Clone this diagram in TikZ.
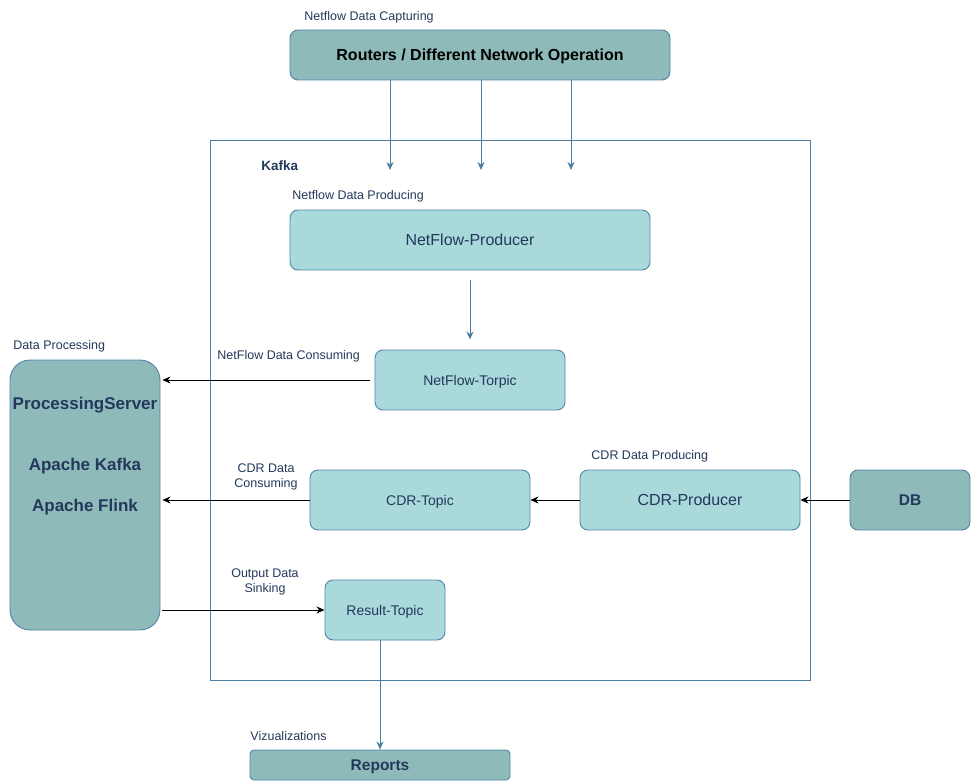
\documentclass[tikz,border=0pt]{standalone}
\usepackage{fontspec}
\setmainfont{Liberation Sans}
\usetikzlibrary{arrows.meta}
\definecolor{boxlight}{HTML}{A9D9DA}
\definecolor{boxdark}{HTML}{8FBABA}
\definecolor{boxline}{HTML}{4F84A8}
\definecolor{steel}{HTML}{4A7FA3}
\definecolor{navy}{HTML}{23395B}
\begin{document}
\begin{tikzpicture}[x = 1pt, y = -1pt, line width = 0.9pt,
                    topicbox/.style = {draw = boxline, fill = boxlight, rounded corners = 8pt,
                                       text = navy, font = \fontsize{14}{16}\selectfont,
                                       text height = 10pt, text depth = 0pt},
                    bigtopic/.style = {topicbox, font = \fontsize{16}{18}\selectfont, text height = 11.5pt},
                    darkbox/.style = {draw = boxline, fill = boxdark, rounded corners = 8pt,
                                      text = navy, font = \fontsize{15.5}{18}\selectfont\bfseries,
                                      text height = 11.1pt, text depth = 0pt},
                    srvtext/.style = {text = navy, font = \fontsize{17}{19}\selectfont\bfseries,
                                      text height = 12.2pt, text depth = 0pt},
                    lbl/.style = {text = navy, font = \fontsize{12.5}{15}\selectfont, inner sep = 0pt},
                    bluearrow/.style = {draw = steel, -{Stealth[length = 8pt, width = 7pt, inset = 2.5pt]}},
                    blackarrow/.style = {draw = black, -{Stealth[length = 8pt, width = 7pt, inset = 2.5pt]}}]
  \useasboundingbox (0, 0) rectangle (971, 781);

  % boxes
  \node [darkbox, text = black, font = \fontsize{16}{18}\selectfont\bfseries, text height = 11.5pt, minimum width = 380pt, minimum height = 50pt] (routers) at (480, 55) {Routers / Different Network Operation};
  \draw [draw = steel] (210, 140) rectangle (810, 680);
  \node [bigtopic, minimum width = 360pt, minimum height = 60pt] (nfprod) at (470, 240) {NetFlow-Producer};
  \node [topicbox, minimum width = 190pt, minimum height = 60pt] (nftopic) at (470, 380) {NetFlow-Torpic};
  \node [darkbox, rounded corners = 20pt, minimum width = 150pt, minimum height = 270pt] (server) at (85, 495) {};
  \node [srvtext] (srvname) at (85, 403) {ProcessingServer};
  \node [srvtext] (kafkaname) at (85, 464) {Apache Kafka};
  \node [srvtext] (flinkname) at (85, 505) {Apache Flink};
  \node [topicbox, minimum width = 220pt, minimum height = 60pt] (cdrtopic) at (420, 500) {CDR-Topic};
  \node [bigtopic, minimum width = 220pt, minimum height = 60pt] (cdrprod) at (690, 500) {CDR-Producer};
  \node [darkbox, minimum width = 120pt, minimum height = 60pt] (db) at (910, 500) {DB};
  \node [topicbox, minimum width = 120pt, minimum height = 60pt] (result) at (385, 610) {Result-Topic};
  \node [darkbox, rounded corners = 4pt, minimum width = 260pt, minimum height = 30pt] (reports) at (380, 765) {Reports};

  % labels
  \node [lbl, anchor = west] (lcapture) at (304, 17) {Netflow Data Capturing};
  \node [lbl, anchor = west, font = \fontsize{13.5}{15}\selectfont\bfseries] (lkafka) at (261, 166) {Kafka};
  \node [lbl, anchor = west] (lnfprod) at (292, 196) {Netflow Data Producing};
  \node [lbl, anchor = west] (lnfcons) at (217, 356) {NetFlow Data Consuming};
  \node [lbl, anchor = west] (lproc) at (13, 346) {Data Processing};
  \node [lbl, align = center] (lcdrcons) at (266, 477) {CDR Data\\Consuming};
  \node [lbl, anchor = west] (lcdrprod) at (591, 456) {CDR Data Producing};
  \node [lbl, align = center] (lsink) at (265, 582) {Output Data\\Sinking};
  \node [lbl, anchor = west] (lviz) at (250, 736) {Vizualizations};

  % connectors
  \coordinate (in1) at (390, 170);
  \coordinate (in2) at (481, 170);
  \coordinate (in3) at (571, 170);
  \draw [bluearrow] (routers.south -| in1) -- (in1);
  \draw [bluearrow] (routers.south -| in2) -- (in2);
  \draw [bluearrow] (routers.south -| in3) -- (in3);
  \draw [bluearrow, shorten <= 10pt, shorten >= 10pt] (nfprod) -- (nftopic);
  \draw [blackarrow, shorten <= 5pt, shorten >= 2pt] (nftopic.west) -- (nftopic.west -| server.east);
  \draw [blackarrow, shorten >= 2pt] (cdrtopic.west) -- (cdrtopic.west -| server.east);
  \draw [blackarrow] (cdrprod.west) -- (cdrtopic.east);
  \draw [blackarrow] (db.west) -- (cdrprod.east);
  \draw [blackarrow, shorten <= 2pt] (server.east |- result.west) -- (result.west);
  \draw [bluearrow] (result.south -| reports.north) -- (reports.north);
\end{tikzpicture}
\end{document}
